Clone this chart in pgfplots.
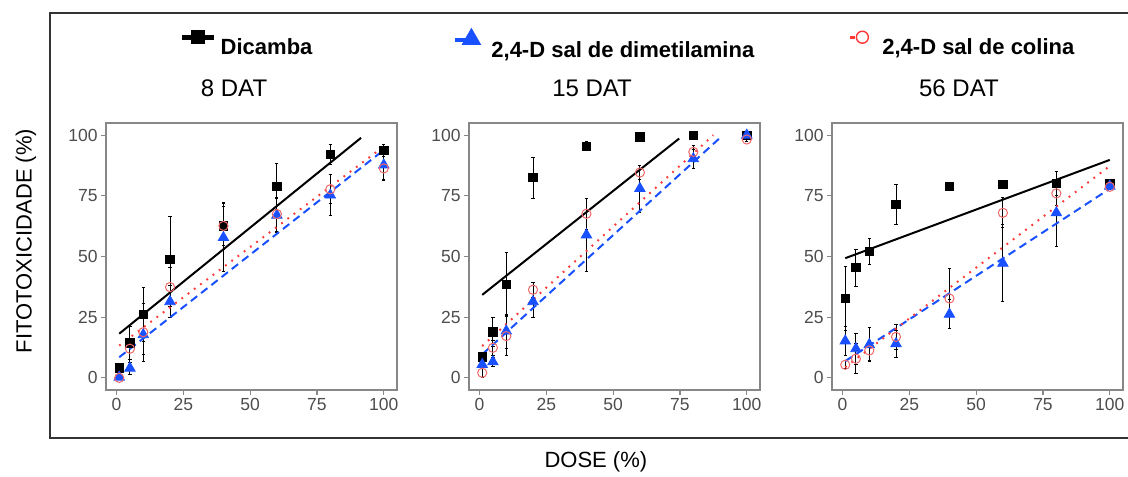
\documentclass[border=0pt]{standalone}
\usepackage{pgfplots}
\usepackage{pgfplotstable}
\usepackage{fontspec}
\setmainfont{Liberation Sans}
\pgfplotsset{compat=1.18}

\definecolor{dblue}{RGB}{25,80,255}
\definecolor{cred}{RGB}{255,55,55}
\definecolor{cmark}{RGB}{240,105,105}
\definecolor{axgray}{RGB}{135,135,135}
\definecolor{txtgray}{RGB}{77,77,77}

% dose, mean and error for each product
\pgfplotstableread{
x   dic  dice dim  dime col  cole
1   4.1  1.0  0.3  0.5  0.0  0.5
5   14.4 6.8  4.0  2.5  12.0 9.0
10  26.2 11.0 17.8 8.0  18.8 12.0
20  48.8 17.6 31.4 6.7  37.4 8.0
40  62.6 9.6  57.8 14.0 62.6 8.0
60  78.8 9.6  67.0 7.0  67.5 7.0
80  92.0 4.0  75.3 8.5  77.7 6.0
100 93.7 2.5  87.7 6.0  86.3 5.0
}\dataA
\pgfplotstableread{
x   dic   dice dim   dime col  cole
1   8.7   1.5  5.5   1.0  2.1  2.0
5   18.9  6.0  6.6   2.0  12.4 3.0
10  38.6  13.0 19.3  7.0  17.2 8.0
20  82.5  8.5  31.4  6.6  36.3 3.0
40  95.4  1.8  58.9  15.0 67.6 6.5
60  99.3  0.5  78.0  9.7  84.6 3.0
80  100.0 0.3  90.3  4.0  93.1 2.5
100 100.0 0.3  100.0 0.3  98.2 1.0
}\dataB
\pgfplotstableread{
x   dic  dice dim  dime col  cole
1   32.7 13.2 15.2 6.0  5.4  1.7
5   45.4 7.6  12.0 6.5  7.9  6.2
10  52.1 5.5  13.7 7.0  11.3 4.0
20  71.4 8.3  14.1 5.5  16.9 5.0
40  79.0 1.2  26.2 6.0  32.7 12.5
60  79.7 0.5  47.2 15.8 68.0 6.2
80  80.1 5.0  68.0 13.9 76.0 5.0
100 80.1 0.5  79.0 1.0  78.7 1.0
}\dataC

\pgfplotsset{
  panel/.style={
    scale only axis, width=145.5pt, height=133.5pt,
    xmin=-3.95, xmax=104.95, ymin=-5, ymax=105,
    xtick={0,25,50,75,100}, ytick={0,25,50,75,100},
    tick pos=left, tick align=outside, major tick length=2.5pt,
    axis line style={axgray, line width=0.6pt},
    major tick style={axgray, line width=0.6pt},
    ticklabel style={font=\fontsize{8.75}{10}\selectfont, text=txtgray, inner sep=1.5pt},
    /pgf/number format/assume math mode=true,
    legend style={draw=none, fill=none, inner sep=0pt, anchor=west,
      font=\fontsize{11}{13}\selectfont\bfseries},
    every axis title shift=0pt,
    title style={anchor=center, yshift=0pt, font=\fontsize{12}{14}\selectfont},
    label style={font=\fontsize{11}{13}\selectfont},
  },
  ebar/.style={error bars/y dir=both, error bars/y explicit,
    error bars/error bar style={black, line width=0.45pt},
    error bars/error mark options={rotate=90, mark size=0.8pt, black, line width=0.45pt}},
  dicpts/.style={only marks, mark=square*, mark size=2.1pt, black, ebar},
  dimpts/.style={only marks, mark=triangle*, mark size=3pt, dblue, mark options={dblue}, ebar},
  colpts/.style={only marks, mark=o, mark size=2.3pt, cmark, mark options={cmark, line width=0.5pt}, ebar},
  dicfit/.style={no marks, black, line width=1pt},
  dimfit/.style={no marks, dblue, line width=1pt, dash pattern=on 4pt off 2.5pt},
  colfit/.style={no marks, cred, line width=1pt, dash pattern=on 0.9pt off 3pt},
}

\begin{document}
\begin{tikzpicture}
\path[use as bounding box] (0pt,0pt) rectangle (564pt,-238pt);

% 8 DAT
\begin{axis}[panel, at={(53pt,-195pt)}, anchor=south west,
  title={8 DAT}, title style={at={(0.44,1.131)}},
  ylabel={FITOTOXICIDADE (\%)},
  ylabel style={at={(axis description cs:-0.275,0.558)}, anchor=center},
  legend style={at={(0.252,1.288)}}]
\addplot[dicpts, legend image code/.code={
    \draw[black, line width=2.5pt] (0pt,5.5pt) -- (16pt,5.5pt);
    \fill[black] (4.75pt,2.25pt) rectangle (11.25pt,8.75pt);}]
  table[x=x, y=dic, y error=dice] {\dataA};
\addlegendentry{Dicamba}
\addplot[dimpts, forget plot] table[x=x, y=dim, y error=dime] {\dataA};
\addplot[colpts, forget plot] table[x=x, y=col, y error=cole] {\dataA};
\addplot[dicfit, forget plot] coordinates {(1,18.2) (91.5,98.9)};
\addplot[dimfit, forget plot] coordinates {(1,8.5) (99,93)};
\addplot[colfit, forget plot] coordinates {(1,13.3) (99,94.5)};
\end{axis}

% 15 DAT
\begin{axis}[panel, at={(234.5pt,-195pt)}, anchor=south west,
  title={15 DAT}, title style={at={(0.423,1.131)}},
  xlabel={DOSE (\%)},
  xlabel style={at={(axis description cs:0.436,-0.27)}, anchor=center},
  legend style={at={(-0.055,1.288)}}]
\addplot[dicpts, forget plot] table[x=x, y=dic, y error=dice] {\dataB};
\addplot[dimpts, legend image code/.code={
    \path[draw=none, fill=none] (0pt,5.5pt) -- (16pt,5.5pt);
    \draw[dblue, line width=2pt] (0pt,5.5pt) -- (7pt,5.5pt);
    \fill[dblue] (8pt,11pt) -- (3.4pt,3pt) -- (12.6pt,3pt) -- cycle;}]
  table[x=x, y=dim, y error=dime] {\dataB};
\addlegendentry{2,4-D sal de dimetilamina}
\addplot[colpts, forget plot] table[x=x, y=col, y error=cole] {\dataB};
\addplot[dicfit, forget plot] coordinates {(1,34.2) (74.7,98.6)};
\addplot[dimfit, forget plot] coordinates {(1,9.7) (90,98.9)};
\addplot[colfit, forget plot] coordinates {(1,13.1) (87.5,100)};
\end{axis}

% 56 DAT
\begin{axis}[panel, at={(416pt,-195pt)}, anchor=south west,
  title={56 DAT}, title style={at={(0.436,1.131)}},
  legend style={at={(0.048,1.288)}}]
\addplot[dicpts, forget plot] table[x=x, y=dic, y error=dice] {\dataC};
\addplot[dimpts, forget plot] table[x=x, y=dim, y error=dime] {\dataC};
\addplot[colpts, legend image code/.code={
    \path[draw=none, fill=none] (0pt,5.5pt) -- (16pt,5.5pt);
    \draw[cred, line width=1.6pt] (2pt,5.5pt) -- (4.5pt,5.5pt);
    \draw[cred, line width=0.7pt] (8pt,5.5pt) circle (3pt);}]
  table[x=x, y=col, y error=cole] {\dataC};
\addlegendentry{2,4-D sal de colina}
\addplot[dicfit, forget plot] coordinates {(1,49.3) (100,89.8)};
\addplot[dimfit, forget plot] coordinates {(1,6.9) (100,77.9)};
\addplot[colfit, forget plot] coordinates {(1,4.4) (100,87.3)};
\end{axis}

\draw[line width=1pt, black!80] (564pt,-6.5pt) -- (25pt,-6.5pt) -- (25pt,-219pt) -- (564pt,-219pt);
\end{tikzpicture}
\end{document}
